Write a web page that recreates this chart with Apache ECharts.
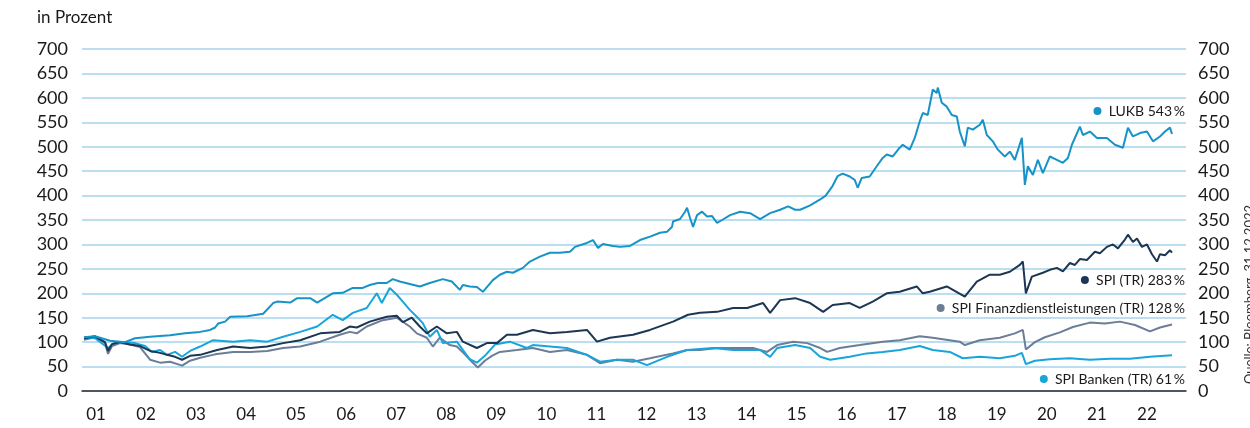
<!DOCTYPE html>
<html>
<head>
<meta charset="utf-8">
<title>LUKB Performance</title>
<script src="https://cdn.jsdelivr.net/npm/echarts@6/dist/echarts.min.js"></script>
<style>
  html, body { margin: 0; padding: 0; background: #fff; }
  #main { width: 1250px; height: 428px; }
</style>
</head>
<body>
<div id="main"></div>
<script>
// year labels sit in the middle of each year
const yearLabels = [2001.5, 2002.5, 2003.5, 2004.5, 2005.5, 2006.5, 2007.5, 2008.5, 2009.5, 2010.5, 2011.5,
  2012.5, 2013.5, 2014.5, 2015.5, 2016.5, 2017.5, 2018.5, 2019.5, 2020.5, 2021.5, 2022.5];

// [year, percent]
const lukb = [[2001.26,110],[2001.48,112],[2001.68,106],[2001.78,103],[2002.08,100],[2002.28,108],[2002.58,111],
  [2002.98,114],[2003.28,118],[2003.58,121],[2003.78,125],[2003.88,130],[2003.94,138],[2004.08,142],[2004.18,152],
  [2004.52,153],[2004.84,158],[2005.04,180],[2005.12,183],[2005.38,181],[2005.52,190],[2005.78,190],[2005.92,181],
  [2006.12,193],[2006.23,200],[2006.43,201],[2006.63,211],[2006.83,211],[2006.97,217],[2007.13,221],[2007.31,221],
  [2007.43,229],[2007.57,224],[2007.77,219],[2007.97,214],[2008.17,221],[2008.43,229],[2008.61,224],[2008.77,207],
  [2008.83,217],[2008.97,214],[2009.11,213],[2009.23,203],[2009.43,227],[2009.57,238],[2009.71,244],[2009.83,242],
  [2010.03,252],[2010.17,265],[2010.37,275],[2010.57,283],[2010.77,283],[2010.97,285],[2011.07,295],[2011.31,303],
  [2011.43,309],[2011.53,293],[2011.63,301],[2011.83,297],[2011.97,295],[2012.17,297],[2012.37,309],[2012.57,316],
  [2012.77,324],[2012.91,326],[2013.01,336],[2013.03,347],[2013.17,352],[2013.27,367],[2013.31,375],[2013.37,354],
  [2013.43,336],[2013.51,360],[2013.61,367],[2013.71,357],[2013.81,358],[2013.91,344],[2014.01,350],[2014.17,360],
  [2014.37,367],[2014.57,364],[2014.77,352],[2014.97,364],[2015.17,371],[2015.33,378],[2015.47,371],[2015.57,371],
  [2015.77,380],[2015.97,392],[2016.08,400],[2016.22,420],[2016.32,440],[2016.42,445],[2016.56,439],[2016.66,432],
  [2016.72,416],[2016.80,436],[2016.96,439],[2017.10,460],[2017.22,477],[2017.30,484],[2017.42,480],[2017.56,498],
  [2017.62,504],[2017.76,494],[2017.86,518],[2017.96,552],[2018.02,569],[2018.12,565],[2018.22,617],[2018.30,610],
  [2018.32,621],[2018.40,590],[2018.50,582],[2018.60,565],[2018.70,562],[2018.76,531],[2018.86,501],[2018.92,539],
  [2019.02,535],[2019.16,545],[2019.22,555],[2019.30,524],[2019.42,511],[2019.52,494],[2019.66,480],[2019.76,490],
  [2019.86,473],[2020.00,518],[2020.06,422],[2020.12,460],[2020.22,442],[2020.32,473],[2020.42,446],[2020.56,480],
  [2020.70,473],[2020.82,467],[2020.92,477],[2021.00,504],[2021.16,541],[2021.22,524],[2021.36,531],[2021.50,518],
  [2021.70,518],[2021.86,504],[2022.02,498],[2022.12,539],[2022.22,521],[2022.36,528],[2022.50,531],[2022.62,511],
  [2022.76,521],[2022.86,531],[2022.96,539],[2023.00,526]];

const spiTr = [[2001.26,108],[2001.48,112],[2001.68,100],[2001.74,82],[2001.82,96],[2001.98,100],[2002.18,95],
  [2002.38,92],[2002.58,82],[2002.78,78],[2002.92,74],[2003.08,70],[2003.22,64],[2003.38,72],[2003.58,74],
  [2003.92,84],[2004.24,91],[2004.58,88],[2004.92,91],[2005.24,98],[2005.58,104],[2005.98,118],[2006.37,121],
  [2006.57,132],[2006.71,130],[2006.97,142],[2007.31,152],[2007.51,154],[2007.63,141],[2007.81,150],[2007.97,132],
  [2008.11,118],[2008.31,132],[2008.51,118],[2008.71,121],[2008.83,101],[2009.11,88],[2009.31,98],[2009.51,98],
  [2009.71,115],[2009.91,115],[2010.23,125],[2010.57,118],[2010.91,121],[2011.31,125],[2011.51,101],[2011.77,109],
  [2012.23,115],[2012.57,125],[2013.03,142],[2013.33,156],[2013.57,160],[2013.91,162],[2014.23,170],[2014.51,170],
  [2014.83,180],[2014.97,160],[2015.17,186],[2015.47,190],[2015.77,180],[2016.03,162],[2016.22,176],[2016.56,180],
  [2016.76,170],[2017.02,183],[2017.30,200],[2017.56,203],[2017.90,214],[2018.02,200],[2018.16,203],[2018.50,214],
  [2018.86,193],[2019.10,224],[2019.36,238],[2019.56,238],[2019.76,244],[2019.96,258],[2020.02,265],[2020.08,200],
  [2020.20,234],[2020.42,242],[2020.56,248],[2020.70,252],[2020.82,245],[2020.96,262],[2021.06,258],[2021.16,270],
  [2021.30,268],[2021.46,285],[2021.56,282],[2021.70,295],[2021.82,300],[2021.92,292],[2022.06,310],[2022.12,320],
  [2022.22,305],[2022.30,312],[2022.40,295],[2022.50,300],[2022.60,280],[2022.70,265],[2022.76,280],[2022.86,278],
  [2022.96,288],[2023.00,283]];

const spiFin = [[2001.26,105],[2001.48,110],[2001.68,98],[2001.74,76],[2001.82,92],[2001.98,98],[2002.18,95],
  [2002.38,90],[2002.58,64],[2002.78,58],[2002.98,60],[2003.22,52],[2003.38,62],[2003.58,68],[2003.88,75],
  [2004.24,80],[2004.58,80],[2004.92,82],[2005.24,88],[2005.58,91],[2005.98,101],[2006.37,115],[2006.57,121],
  [2006.71,118],[2006.91,132],[2007.23,145],[2007.51,150],[2007.77,132],[2007.91,118],[2008.11,109],[2008.23,91],
  [2008.37,109],[2008.57,94],[2008.71,91],[2008.87,75],[2009.01,60],[2009.13,48],[2009.27,62],[2009.41,72],
  [2009.57,80],[2009.91,84],[2010.23,88],[2010.57,80],[2010.91,84],[2011.31,74],[2011.57,57],[2011.91,64],
  [2012.23,60],[2012.57,67],[2013.03,77],[2013.31,84],[2013.57,84],[2013.91,88],[2014.23,88],[2014.63,88],
  [2014.91,80],[2015.11,94],[2015.43,101],[2015.71,98],[2015.97,88],[2016.11,80],[2016.36,88],[2016.76,94],
  [2017.22,101],[2017.56,104],[2017.96,112],[2018.22,109],[2018.76,101],[2018.86,94],[2019.16,104],[2019.56,109],
  [2019.86,118],[2020.02,125],[2020.08,85],[2020.26,100],[2020.46,110],[2020.76,120],[2021.02,131],[2021.36,140],
  [2021.66,138],[2021.96,142],[2022.26,135],[2022.56,122],[2022.76,130],[2023.00,136]];

const spiBanken = [[2001.26,110],[2001.48,108],[2001.74,88],[2001.88,100],[2002.08,100],[2002.28,98],[2002.48,92],
  [2002.62,80],[2002.78,84],[2002.92,74],[2003.08,80],[2003.22,70],[2003.38,82],[2003.58,91],[2003.84,104],
  [2004.24,101],[2004.58,104],[2004.92,101],[2005.24,111],[2005.58,121],[2005.92,132],[2006.23,156],[2006.43,145],
  [2006.63,160],[2006.91,170],[2007.11,200],[2007.21,180],[2007.37,211],[2007.51,197],[2007.63,183],[2007.77,166],
  [2007.91,152],[2008.03,139],[2008.17,111],[2008.31,125],[2008.43,98],[2008.71,101],[2008.83,84],[2008.97,65],
  [2009.11,58],[2009.27,72],[2009.47,95],[2009.77,101],[2010.11,88],[2010.23,94],[2010.57,91],[2010.91,88],
  [2011.31,74],[2011.57,60],[2011.91,64],[2012.23,64],[2012.51,53],[2012.91,70],[2013.31,84],[2013.83,88],
  [2014.23,84],[2014.77,84],[2014.97,70],[2015.11,88],[2015.47,94],[2015.77,88],[2015.97,70],[2016.17,64],
  [2016.56,70],[2016.90,77],[2017.22,80],[2017.56,84],[2017.96,92],[2018.22,84],[2018.56,80],[2018.82,67],
  [2019.16,70],[2019.56,67],[2019.86,72],[2020.00,78],[2020.08,55],[2020.26,62],[2020.56,65],[2020.96,67],
  [2021.36,64],[2021.76,66],[2022.16,66],[2022.56,70],[2023.00,73]];

const names = ['LUKB', 'SPI (TR)', 'SPI Finanzdienstleistungen (TR)', 'SPI Banken (TR)'];
const endLabels = ['LUKB 543\u2009%', 'SPI (TR) 283\u2009%', 'SPI Finanzdienstleistungen (TR) 128\u2009%', 'SPI Banken (TR) 61\u2009%'];
const colors = ['#1893c8', '#1c3653', '#6c7d98', '#17a5dc'];

const font = 'Lato, "Noto Sans", sans-serif';
const chart = echarts.init(document.getElementById('main'), null, { renderer: 'canvas' });

function line(name, data, color, z) {
  return {
    name: name, type: 'line', data: data, showSymbol: false, symbol: 'none',
    lineStyle: { color: color, width: 2 }, z: z, animation: false
  };
}

function endText(i, y) {
  return {
    type: 'text', right: 65, top: y - 9,
    style: {
      text: '{d| }  ' + endLabels[i],
      font: '14px ' + font, fill: '#1a1a1a',
      rich: { d: { width: 8, height: 8, borderRadius: 4, backgroundColor: colors[i] } }
    }
  };
}

chart.setOption({
  animation: false,
  textStyle: { fontFamily: font },
  grid: { left: 82, right: 64, top: 49, bottom: 37 },
  xAxis: {
    type: 'value', min: 2001.22, max: 2023.28,
    axisLine: { show: true, lineStyle: { color: '#2b2b2b', width: 1.5 } },
    axisTick: { show: false },
    splitLine: { show: false },
    axisLabel: {
      customValues: yearLabels, margin: 15, fontSize: 17, color: '#1a1a1a', fontFamily: font,
      formatter: v => String(Math.floor(v)).slice(2)
    }
  },
  yAxis: [{
    type: 'value', min: 0, max: 700, interval: 50, position: 'left',
    axisLine: { show: false }, axisTick: { show: false },
    axisLabel: { margin: 14, fontSize: 18, color: '#1a1a1a', fontFamily: font },
    splitLine: { lineStyle: { color: '#a6d3ec', width: 1.5 } }
  }, {
    type: 'value', min: 0, max: 700, interval: 50, position: 'right',
    axisLine: { show: false }, axisTick: { show: false },
    axisLabel: { margin: 12, fontSize: 18, color: '#1a1a1a', fontFamily: font },
    splitLine: { show: false }
  }],
  graphic: [
    { type: 'text', left: 37, top: 9, style: { text: 'in Prozent', font: '17px ' + font, fill: '#1a1a1a' } },
    endText(0, 113), endText(1, 282), endText(2, 310), endText(3, 381),
    {
      // source note, cut off at the right edge like in the print
      type: 'text', x: 1250, y: 384, rotation: Math.PI / 2,
      style: {
        text: 'Quelle: Bloomberg, 31.12.2022', font: '13px ' + font, fill: '#333',
        align: 'left', verticalAlign: 'middle'
      }
    }
  ],
  series: [
    line(names[2], spiFin, colors[2], 2),
    line(names[3], spiBanken, colors[3], 3),
    line(names[1], spiTr, colors[1], 4),
    line(names[0], lukb, colors[0], 5)
  ]
});
</script>
</body>
</html>
